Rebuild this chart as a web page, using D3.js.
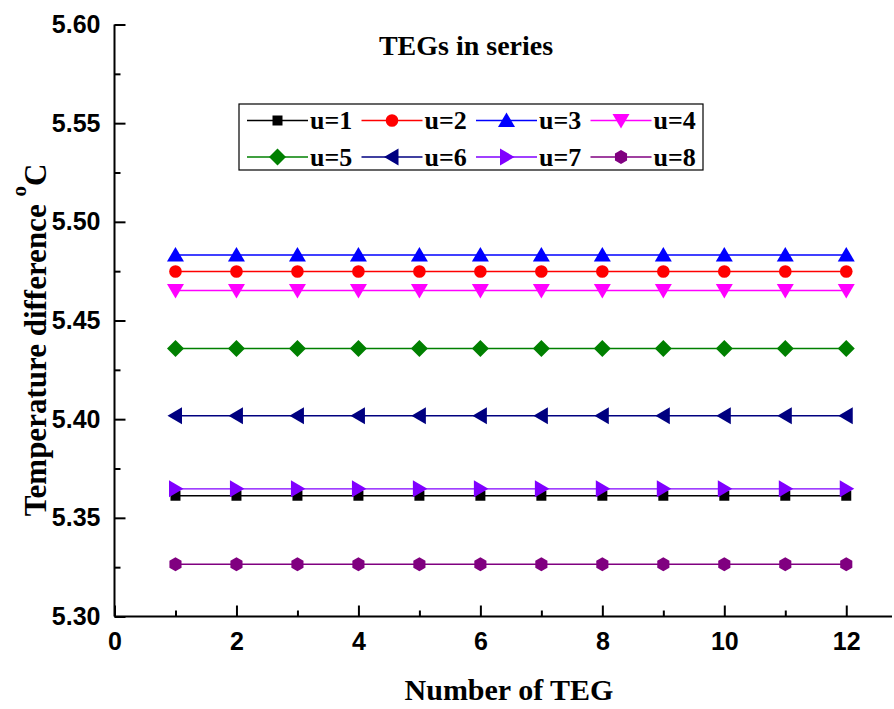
<!DOCTYPE html>
<html><head><meta charset="utf-8">
<script src="https://cdn.jsdelivr.net/npm/d3@7"></script>
<style>body{margin:0;background:#fff;} svg{display:block;}</style>
</head><body>
<svg id="c" width="894" height="709"></svg>
<script>
const xValues = [1,2,3,4,5,6,7,8,9,10,11,12];
const seriesNames = ["u=1","u=2","u=3","u=4","u=5","u=6","u=7","u=8"];
const seriesLevels = [5.3612, 5.4748, 5.4832, 5.4652, 5.4358, 5.4017, 5.3647, 5.3265];
const seriesColors = ["#000000","#ff0000","#0000ff","#ff00ff","#008000","#000080","#8000ff","#800080"];
const seriesShapes = ["square","circle","triUp","triDown","diamond","triLeft","triRight","hexagon"];
const yTicks = [5.30,5.35,5.40,5.45,5.50,5.55,5.60];
const xTicks = [0,2,4,6,8,10,12];

const svg = d3.select("#c");
const x = d3.scaleLinear().domain([0,12.75]).range([114.5, 892]);
const y = d3.scaleLinear().domain([5.30,5.60]).range([616.5, 24.5]);

function shapePath(kind){
  switch(kind){
    case "square": return "M-5,-5H5V5H-5Z";
    case "circle": return d3.symbol(d3.symbolCircle, 125)();
    case "triUp": return "M0,-8L8.5,6.5L-8.5,6.5Z";
    case "triDown": return "M0,8L8.5,-6.5L-8.5,-6.5Z";
    case "triLeft": return "M-8,0L6.5,-8.5L6.5,8.5Z";
    case "triRight": return "M8,0L-6.5,-8.5L-6.5,8.5Z";
    case "diamond": return "M0,-8.5L8.5,0L0,8.5L-8.5,0Z";
    case "hexagon": {
      const pts = d3.range(6).map(i=>{const a=Math.PI/3*i+Math.PI/2; return [7*Math.cos(a),7*Math.sin(a)];});
      return "M"+pts.map(p=>p.join(",")).join("L")+"Z";
    }
  }
}

// series
seriesNames.forEach((name,i)=>{
  const data = xValues.map(v=>({x:v,y:seriesLevels[i]}));
  const g = svg.append("g");
  g.append("path").datum(data)
    .attr("d", d3.line().x(d=>x(d.x)).y(d=>y(d.y)))
    .attr("fill","none").attr("stroke",seriesColors[i]).attr("stroke-width",1.4);
  g.selectAll("path.m").data(data).enter().append("path").attr("class","m")
    .attr("d", shapePath(seriesShapes[i]))
    .attr("transform", d=>`translate(${x(d.x)},${y(d.y)})`)
    .attr("fill",seriesColors[i]);
});

// axes
const yAxis = d3.axisLeft(y).tickValues(yTicks).tickFormat(d3.format(".2f")).tickSize(-11).tickPadding(14);
const yMinor = d3.axisLeft(y).tickValues(d3.range(5.325,5.60,0.05)).tickFormat("").tickSize(-6);
const xAxis = d3.axisBottom(x).tickValues(xTicks).tickFormat(d3.format("d")).tickSize(-11).tickPadding(16);
const xMinor = d3.axisBottom(x).tickValues(d3.range(1,13,2)).tickFormat("").tickSize(-6);

function styleAxis(g){
  g.select(".domain").attr("stroke","#000").attr("stroke-width",2);
  g.selectAll(".tick line").attr("stroke","#000").attr("stroke-width",2);
  g.selectAll(".tick text").attr("fill","#000").style("font-family","'Liberation Sans', Arial, sans-serif").style("font-weight","bold").style("font-size","25px");
}
const gy = svg.append("g").attr("transform",`translate(${x(0)},0)`).call(yAxis); styleAxis(gy);
gy.select(".domain").attr("d",`M0,${y(5.30)}V${y(5.60)}`);
const gy2 = svg.append("g").attr("transform",`translate(${x(0)},0)`).call(yMinor); styleAxis(gy2); gy2.select(".domain").remove();
const gx = svg.append("g").attr("transform",`translate(0,${y(5.30)})`).call(xAxis); styleAxis(gx);
gx.select(".domain").attr("d",`M${x(0)},0H${x(12.75)}`);
gx.selectAll(".tick text").attr("dy","0.71em");
const gx2 = svg.append("g").attr("transform",`translate(0,${y(5.30)})`).call(xMinor); styleAxis(gx2); gx2.select(".domain").remove();

const serif = "'Liberation Serif','Times New Roman',serif";
// titles
svg.append("text").attr("x",466).attr("y",55).attr("text-anchor","middle")
  .style("font-family",serif).style("font-weight","bold").style("font-size","28px").text("TEGs in series");
svg.append("text").attr("x",509).attr("y",700).attr("text-anchor","middle")
  .style("font-family",serif).style("font-weight","bold").style("font-size","30px").text("Number of TEG");
const yl = svg.append("text").attr("transform","translate(46,340) rotate(-90)").attr("text-anchor","middle")
  .style("font-family",serif).style("font-weight","bold").style("font-size","31px");
yl.append("tspan").text("Temperature difference ");
yl.append("tspan").attr("dy",-20).style("font-size","21px").text("o");
yl.append("tspan").attr("dy",20).text("C");

// legend
const lg = svg.append("g");
lg.append("rect").attr("x",239).attr("y",104).attr("width",464).attr("height",66)
  .attr("fill","#fff").attr("stroke","#000").attr("stroke-width",1.2);
seriesNames.forEach((name,i)=>{
  const col = i%4, row = Math.floor(i/4);
  const lx = 247 + col*114.5, ly = 120.5 + row*36.5;
  lg.append("line").attr("x1",lx).attr("x2",lx+61).attr("y1",ly).attr("y2",ly)
    .attr("stroke",seriesColors[i]).attr("stroke-width",1.4);
  lg.append("path").attr("d",shapePath(seriesShapes[i])).attr("transform",`translate(${lx+30.5},${ly})`).attr("fill",seriesColors[i]);
  lg.append("text").attr("x",lx+63).attr("y",ly+8.5)
    .style("font-family",serif).style("font-weight","bold").style("font-size","26px").text(name);
});
</script>
</body></html>
